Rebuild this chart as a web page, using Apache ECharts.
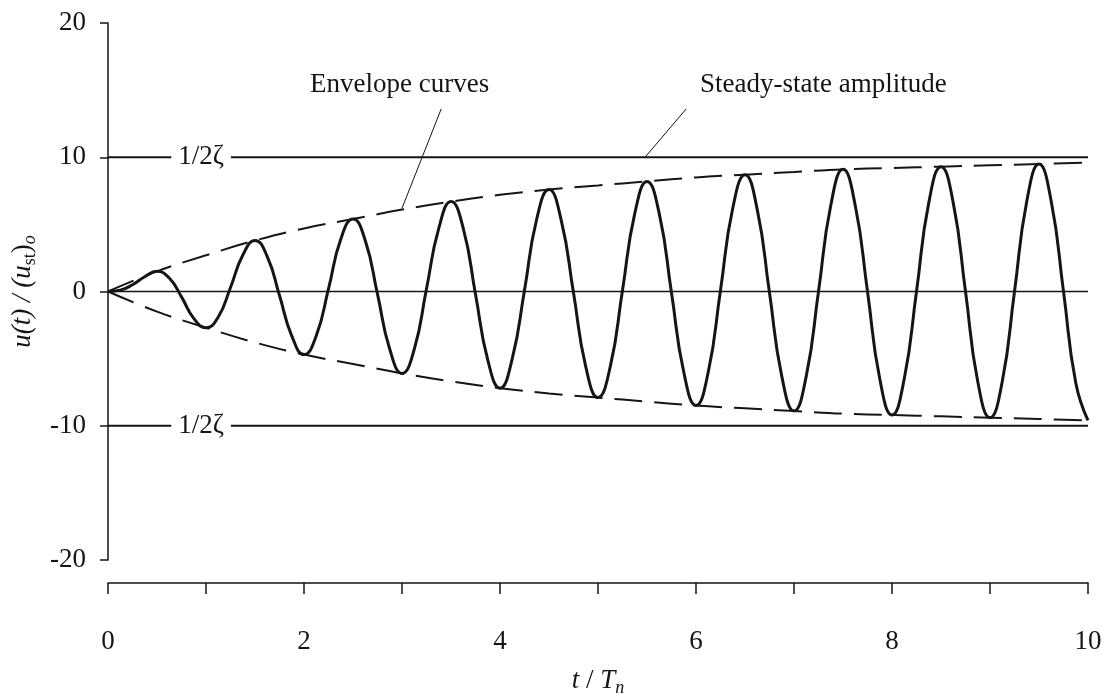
<!DOCTYPE html>
<html>
<head>
<meta charset="utf-8">
<script src="https://cdn.jsdelivr.net/npm/echarts@6/dist/echarts.min.js"></script>
<style>
html,body{margin:0;padding:0;background:#fff;}
#chart{width:1108px;height:698px;}
</style>
</head>
<body>
<div id="chart"></div>
<script>
// ---- data ----
// sampling instants t/Tn for the response curve
const tResp = [0,0.125,0.25,0.375,0.5,0.625,0.75,0.875,1,1.125,1.25,1.375,1.5,1.625,1.75,1.875,2,2.125,2.25,2.375,2.5,2.625,2.75,2.875,3,3.125,3.25,3.375,3.5,3.625,3.75,3.875,4,4.125,4.25,4.375,4.5,4.625,4.75,4.875,5,5.125,5.25,5.375,5.5,5.625,5.75,5.875,6,6.125,6.25,6.375,6.5,6.625,6.75,6.875,7,7.125,7.25,7.375,7.5,7.625,7.75,7.875,8,8.125,8.25,8.375,8.5,8.625,8.75,8.875,9,9.125,9.25,9.375,9.5,9.625,9.75,9.875,10];
// u(t)/(ust)o response values
const uResp = [0,0.1,0.5,1.1,1.5,1.0,-0.4,-2.0,-2.7,-1.9,0.3,2.7,3.8,2.6,-0.3,-3.3,-4.7,-3.3,0.2,3.9,5.4,3.8,-0.2,-4.3,-6.1,-4.3,0.2,4.7,6.7,4.7,-0.2,-5.1,-7.2,-5.0,0.1,5.4,7.6,5.3,-0.1,-5.6,-7.9,-5.6,0.1,5.8,8.2,5.8,-0.1,-6.0,-8.5,-6.0,0.1,6.2,8.7,6.1,-0.1,-6.3,-8.9,-6.3,0.0,6.4,9.1,6.4,0.0,-6.5,-9.2,-6.5,0.0,6.6,9.3,6.6,0.0,-6.7,-9.4,-6.7,0.0,6.7,9.5,6.7,0.0,-6.8,-9.6];
// envelope curves
const tEnv = [0,0.5,1,1.5,2,2.5,3,3.5,4,4.5,5,5.5,6,6.5,7,7.5,8,8.5,9,9.5,10];
const envUpper = [0,1.5,2.7,3.8,4.7,5.4,6.1,6.7,7.2,7.6,7.9,8.2,8.5,8.7,8.9,9.1,9.2,9.3,9.4,9.5,9.6];
const envLower = [0,-1.5,-2.7,-3.8,-4.7,-5.4,-6.1,-6.7,-7.2,-7.6,-7.9,-8.2,-8.5,-8.7,-8.9,-9.1,-9.2,-9.3,-9.4,-9.5,-9.6];
// steady-state amplitude 1/2zeta
const steadyAmp = [10, -10];
const steadyLabel = '1/2ζ';
// axis ticks
const xTicks = [0,2,4,6,8,10];
const yTicks = [-20,-10,0,10,20];

const INK = '#151515';
const FONT = '"Liberation Serif", "Times New Roman", serif';

const zip = (a, b) => a.map((v, i) => [v, b[i]]);
const xMin = 0, xMax = 10;

const chart = echarts.init(document.getElementById('chart'), null, {renderer: 'canvas'});

const option = {
  animation: false,
  backgroundColor: '#ffffff',
  grid: {left: 108, right: 20, top: 23, bottom: 138, containLabel: false, outerBoundsMode: 'none'},
  xAxis: {
    type: 'value', min: xMin, max: xMax, interval: 1, offset: 23,
    axisLine: {show: true, onZero: false, lineStyle: {color: INK, width: 1.5}},
    axisTick: {show: true, length: 11, lineStyle: {color: INK, width: 1.5}},
    axisLabel: {
      margin: 45, fontSize: 27, fontFamily: FONT, color: INK,
      formatter: v => (xTicks.indexOf(v) >= 0 ? String(v) : '')
    },
    splitLine: {show: false},
    name: '{i|t} / {i|T}{n|n}',
    nameLocation: 'middle', nameGap: 82,
    nameTextStyle: {
      fontSize: 27, fontFamily: FONT, color: INK,
      rich: {
        i: {fontStyle: 'italic', fontSize: 27, fontFamily: FONT, color: INK},
        n: {fontStyle: 'italic', fontSize: 18, fontFamily: FONT, color: INK, padding: [14, 0, 0, 0]}
      }
    }
  },
  yAxis: {
    type: 'value', min: -20, max: 20, interval: 10,
    axisLine: {show: true, onZero: false, lineStyle: {color: INK, width: 1.5}},
    axisTick: {show: true, length: 8, lineStyle: {color: INK, width: 1.5}},
    axisLabel: {
      margin: 22, fontSize: 27, fontFamily: FONT, color: INK,
      formatter: v => (yTicks.indexOf(v) >= 0 ? String(v) : '')
    },
    splitLine: {show: false},
    name: '{i|u(t) / (u}{s|st}{r|)}{o|o}',
    nameLocation: 'middle', nameRotate: 90, nameGap: 68,
    nameTextStyle: {
      fontSize: 27, fontFamily: FONT, color: INK,
      rich: {
        i: {fontStyle: 'italic', fontSize: 27, fontFamily: FONT, color: INK},
        r: {fontSize: 27, fontFamily: FONT, color: INK},
        s: {fontSize: 18, fontFamily: FONT, color: INK, padding: [14, 0, 0, 0]},
        o: {fontStyle: 'italic', fontSize: 18, fontFamily: FONT, color: INK, padding: [14, 0, 0, 0]}
      }
    }
  },
  graphic: [
    {type: 'text', left: 310, top: 71, style: {text: 'Envelope curves', font: '27px ' + FONT, fill: INK}},
    {type: 'text', left: 700, top: 71, style: {text: 'Steady-state amplitude', font: '27px ' + FONT, fill: INK}}
  ],
  series: [
    {
      name: 'zero', type: 'line', data: [[xMin, 0], [xMax, 0]],
      showSymbol: false, symbol: 'none', silent: true,
      lineStyle: {color: INK, width: 1.5}, z: 1
    },
    {
      name: 'steady+', type: 'line', data: [[xMin, steadyAmp[0]], [xMax, steadyAmp[0]]],
      symbol: 'none', silent: true, lineStyle: {color: INK, width: 2}, z: 1
    },
    {
      name: 'steady-', type: 'line', data: [[xMin, steadyAmp[1]], [xMax, steadyAmp[1]]],
      symbol: 'none', silent: true, lineStyle: {color: INK, width: 2}, z: 1
    },
    {
      name: 'envUpper', type: 'line', data: zip(tEnv, envUpper), smooth: 0.4,
      symbol: 'none', silent: true, lineStyle: {color: INK, width: 2, type: [28, 12]}, z: 2
    },
    {
      name: 'envLower', type: 'line', data: zip(tEnv, envLower), smooth: 0.4,
      symbol: 'none', silent: true, lineStyle: {color: INK, width: 2, type: [28, 12]}, z: 2
    },
    {
      name: 'response', type: 'line', data: zip(tResp, uResp), smooth: 0.5,
      symbol: 'none', silent: true, lineStyle: {color: INK, width: 3}, z: 3,
      markLine: {
        silent: true, symbol: ['none', 'none'],
        label: {show: false},
        lineStyle: {color: INK, width: 1, type: 'solid'},
        data: [
          [{coord: [3.4, 13.6]}, {coord: [3.0, 6.2]}],
          [{coord: [5.9, 13.6]}, {coord: [5.48, 10]}]
        ]
      }
    },
    {
      name: 'labels', type: 'scatter', symbolSize: 0, silent: true, z: 5,
      itemStyle: {opacity: 1, color: INK},
      data: steadyAmp.map(v => [0.95, v]),
      label: {
        show: true, position: 'inside', formatter: steadyLabel, opacity: 1,
        fontSize: 27, fontFamily: FONT, color: INK,
        backgroundColor: '#ffffff', padding: [2, 7, 2, 7]
      }
    }
  ]
};
chart.setOption(option);
</script>
</body>
</html>
